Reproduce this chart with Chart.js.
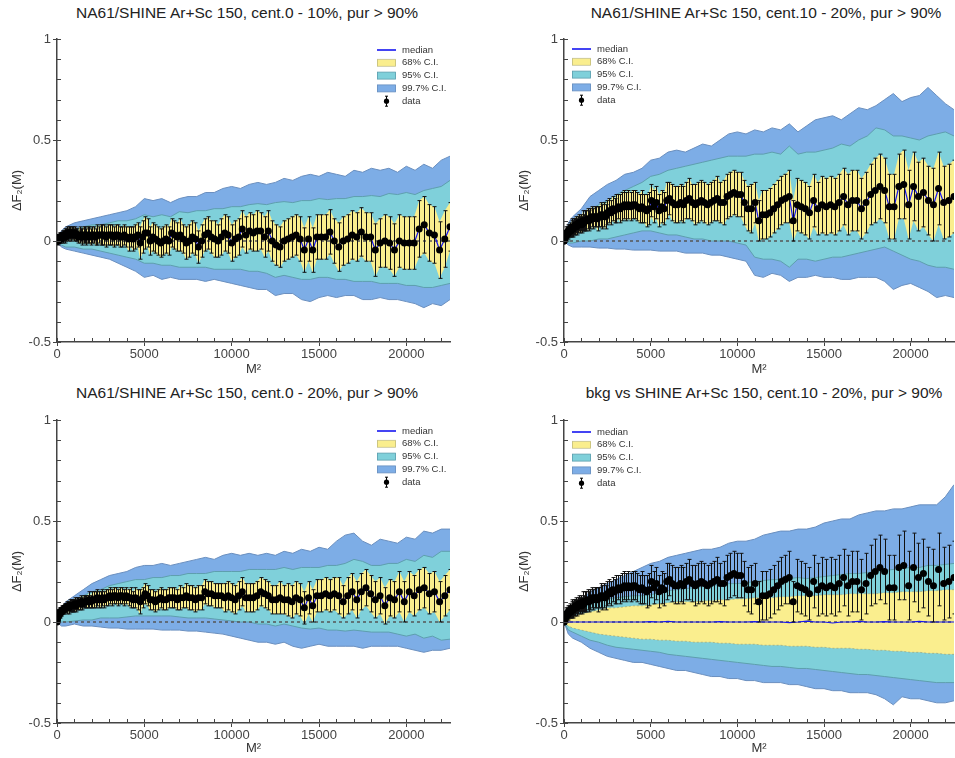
<!DOCTYPE html>
<html><head><meta charset="utf-8">
<script src="https://cdn.jsdelivr.net/npm/chart.js@4.4.1/dist/chart.umd.min.js"></script>
<style>
html,body{margin:0;padding:0;background:#fff;overflow:hidden;width:955px;height:758px;}
#wrap{position:relative;width:955px;height:758px;overflow:hidden;}
.panel{position:absolute;}
.ttl{position:absolute;font-family:"Liberation Sans",Arial,sans-serif;font-size:15.5px;color:#222;white-space:nowrap;transform:translateX(-50%);line-height:17px;}
</style></head><body>
<div id="wrap">
<div class="ttl" style="left:247px;top:4px">NA61/SHINE Ar+Sc 150, cent.0 - 10%, pur &gt; 90%</div>
<div class="ttl" style="left:766px;top:4px">NA61/SHINE Ar+Sc 150, cent.10 - 20%, pur &gt; 90%</div>
<div class="ttl" style="left:247px;top:384px">NA61/SHINE Ar+Sc 150, cent.0 - 20%, pur &gt; 90%</div>
<div class="ttl" style="left:764px;top:384px">bkg vs SHINE Ar+Sc 150, cent.10 - 20%, pur &gt; 90%</div>
<div class="panel" style="left:0;top:0;width:477px;height:379px"><canvas id="c1"></canvas></div>
<div class="panel" style="left:480px;top:0;width:478px;height:379px"><canvas id="c2"></canvas></div>
<div class="panel" style="left:0;top:380px;width:477px;height:378px"><canvas id="c3"></canvas></div>
<div class="panel" style="left:480px;top:380px;width:478px;height:378px"><canvas id="c4"></canvas></div>
</div>
<script>
// ---------- data ----------
const M2 = [1,4,9,16,25,36,49,64,81,100,
121,144,169,196,225,256,289,324,361,400,
441,484,529,576,625,676,729,784,841,900,
961,1024,1089,1156,1225,1296,1369,1444,1521,1600,
1681,1764,1849,1936,2025,2116,2209,2304,2401,2500,
2601,2704,2809,2916,3025,3136,3249,3364,3481,3600,
3721,3844,3969,4096,4225,4356,4489,4624,4761,4900,
5041,5184,5329,5476,5625,5776,5929,6084,6241,6400,
6561,6724,6889,7056,7225,7396,7569,7744,7921,8100,
8281,8464,8649,8836,9025,9216,9409,9604,9801,10000,
10201,10404,10609,10816,11025,11236,11449,11664,11881,12100,
12321,12544,12769,12996,13225,13456,13689,13924,14161,14400,
14641,14884,15129,15376,15625,15876,16129,16384,16641,16900,
17161,17424,17689,17956,18225,18496,18769,19044,19321,19600,
19881,20164,20449,20736,21025,21316,21609,21904,22201,22500];

const BX = [0,250,500,1000,1500,2000,2500,3000,3500,4000,
4500,5000,5500,6000,6500,7000,7500,8000,8500,9000,
9500,10000,10500,11000,11500,12000,12500,13000,13500,14000,
14500,15000,15500,16000,16500,17000,17500,18000,18500,19000,
19500,20000,20500,21000,21500,22000,22500];

const X_TICKS = [0,1000,2000,3000,4000,5000,6000,7000,8000,9000,10000,11000,
12000,13000,14000,15000,16000,17000,18000,19000,20000,21000,22000];
const X_TICK_LABELS = [0,5000,10000,15000,20000];
const Y_TICKS = [-0.5,-0.4,-0.3,-0.2,-0.1,0,0.1,0.2,0.3,0.4,0.5,0.6,0.7,0.8,0.9,1];
const Y_TICK_LABELS = [-0.5,0,0.5,1];

// panel 1: cent. 0-10%
const P1_Y = [0.00,0.00,0.01,0.00,0.01,0.00,0.01,0.01,0.00,0.01,
0.01,0.02,0.01,0.02,0.02,0.01,0.02,0.03,0.02,0.03,
0.03,0.02,0.03,0.04,0.03,0.04,0.04,0.03,0.04,0.04,
0.03,0.04,0.03,0.03,0.02,0.03,0.03,0.02,0.03,0.03,
0.02,0.03,0.03,0.02,0.03,0.03,0.02,0.03,0.03,0.03,
0.03,0.03,0.02,0.03,0.03,0.03,0.02,0.03,0.03,0.02,
0.02,0.03,0.02,0.01,0.02,0.01,0.02,0.03,-0.01,0.02,
0.04,0.04,0.00,0.02,0.01,0.00,-0.01,0.00,0.01,0.00,
0.04,0.03,0.02,0.03,0.01,-0.01,0.00,0.02,0.01,-0.03,
0.00,0.03,0.04,0.02,0.01,0.00,0.02,0.04,0.03,-0.01,
0.01,0.02,0.06,0.03,0.05,0.04,0.05,0.05,0.02,0.05,
0.00,-0.02,-0.03,0.00,0.01,0.02,0.03,0.01,-0.045,0.01,
-0.045,0.02,0.02,0.02,0.045,0.00,-0.03,0.00,0.01,0.03,
0.02,0.045,0.02,0.02,-0.045,-0.01,0.00,-0.01,-0.045,0.00,
-0.01,-0.01,-0.01,0.06,0.08,0.04,0.03,-0.045,0.01,0.07];
const P1_ERR = [0.01,0.01,0.01,0.01,0.01,0.01,0.01,0.02,0.02,0.02,
0.02,0.02,0.02,0.02,0.02,0.02,0.02,0.02,0.03,0.02,
0.03,0.03,0.03,0.03,0.03,0.03,0.03,0.03,0.03,0.03,
0.03,0.03,0.03,0.03,0.03,0.04,0.03,0.04,0.04,0.04,
0.04,0.04,0.04,0.04,0.04,0.04,0.04,0.05,0.04,0.05,
0.05,0.05,0.05,0.05,0.05,0.05,0.05,0.05,0.05,0.05,
0.05,0.05,0.05,0.06,0.05,0.06,0.06,0.06,0.08,0.08,
0.08,0.07,0.07,0.07,0.07,0.07,0.07,0.07,0.07,0.07,
0.07,0.07,0.07,0.08,0.07,0.08,0.08,0.08,0.08,0.08,
0.08,0.08,0.08,0.08,0.09,0.08,0.09,0.09,0.09,0.09,
0.09,0.09,0.09,0.09,0.09,0.09,0.10,0.09,0.10,0.10,
0.10,0.10,0.10,0.10,0.10,0.10,0.10,0.11,0.11,0.11,
0.11,0.11,0.11,0.11,0.11,0.11,0.12,0.12,0.12,0.12,
0.12,0.12,0.12,0.12,0.13,0.12,0.13,0.13,0.13,0.13,
0.13,0.13,0.13,0.14,0.14,0.14,0.14,0.14,0.14,0.12];
const P1_U997 = [0,0.05,0.07,0.09,0.10,0.11,0.12,0.13,0.14,0.15,
0.17,0.21,0.20,0.21,0.19,0.21,0.22,0.22,0.24,0.24,
0.26,0.27,0.26,0.28,0.29,0.28,0.29,0.31,0.30,0.32,
0.33,0.32,0.34,0.33,0.32,0.35,0.34,0.36,0.35,0.36,
0.34,0.37,0.35,0.38,0.36,0.40,0.42];
const P1_U95 = [0,0.03,0.05,0.06,0.07,0.08,0.08,0.09,0.10,0.10,
0.11,0.13,0.12,0.13,0.12,0.145,0.14,0.15,0.15,0.16,
0.16,0.17,0.17,0.18,0.185,0.18,0.19,0.195,0.19,0.20,
0.20,0.21,0.205,0.21,0.21,0.22,0.22,0.225,0.22,0.235,
0.23,0.24,0.23,0.25,0.26,0.27,0.30];
const P1_L95 = [0,-0.02,-0.03,-0.03,-0.04,-0.04,-0.05,-0.06,-0.07,-0.08,
-0.09,-0.11,-0.11,-0.12,-0.12,-0.13,-0.13,-0.13,-0.13,-0.14,
-0.14,-0.14,-0.14,-0.15,-0.15,-0.16,-0.18,-0.17,-0.18,-0.19,
-0.19,-0.18,-0.18,-0.19,-0.19,-0.20,-0.20,-0.20,-0.21,-0.21,
-0.21,-0.22,-0.22,-0.23,-0.23,-0.22,-0.21];
const P1_L997 = [0,-0.03,-0.04,-0.05,-0.06,-0.07,-0.08,-0.09,-0.11,-0.13,
-0.15,-0.18,-0.17,-0.19,-0.18,-0.19,-0.19,-0.19,-0.20,-0.19,
-0.20,-0.21,-0.22,-0.23,-0.24,-0.24,-0.27,-0.26,-0.26,-0.29,
-0.30,-0.28,-0.27,-0.28,-0.27,-0.27,-0.29,-0.29,-0.28,-0.29,
-0.29,-0.30,-0.31,-0.33,-0.31,-0.32,-0.29];

// panel 2 and 4: cent. 10-20%
const P2_Y = [0.00,0.00,0.01,0.01,0.01,0.02,0.02,0.02,0.03,0.03,
0.03,0.04,0.03,0.04,0.05,0.04,0.05,0.05,0.06,0.05,
0.06,0.07,0.06,0.07,0.07,0.08,0.07,0.08,0.09,0.08,
0.09,0.08,0.10,0.09,0.10,0.10,0.11,0.10,0.11,0.12,
0.11,0.12,0.12,0.11,0.12,0.13,0.12,0.13,0.12,0.14,
0.15,0.14,0.16,0.15,0.16,0.17,0.16,0.17,0.18,0.17,
0.18,0.17,0.18,0.18,0.17,0.16,0.17,0.16,0.15,0.16,
0.20,0.17,0.19,0.15,0.17,0.16,0.20,0.21,0.19,0.18,
0.18,0.19,0.18,0.20,0.21,0.19,0.18,0.19,0.20,0.19,
0.18,0.19,0.20,0.21,0.19,0.19,0.22,0.23,0.24,0.23,
0.23,0.19,0.16,0.16,0.19,0.10,0.13,0.13,0.14,0.16,
0.18,0.20,0.21,0.22,0.10,0.18,0.17,0.16,0.14,0.20,
0.16,0.18,0.17,0.18,0.17,0.19,0.22,0.18,0.20,0.20,
0.16,0.19,0.23,0.25,0.27,0.25,0.17,0.17,0.27,0.28,
0.18,0.27,0.22,0.24,0.20,0.18,0.26,0.19,0.20,0.22];
const P2_ERR = [0.01,0.01,0.01,0.01,0.02,0.02,0.02,0.02,0.02,0.02,
0.02,0.03,0.03,0.03,0.03,0.03,0.03,0.03,0.03,0.03,
0.04,0.04,0.04,0.04,0.04,0.04,0.04,0.04,0.04,0.04,
0.04,0.04,0.05,0.04,0.05,0.05,0.05,0.05,0.05,0.05,
0.05,0.05,0.05,0.06,0.05,0.06,0.06,0.06,0.06,0.06,
0.06,0.06,0.06,0.06,0.07,0.06,0.07,0.07,0.07,0.07,
0.07,0.07,0.07,0.07,0.07,0.07,0.08,0.07,0.08,0.08,
0.08,0.08,0.08,0.08,0.08,0.08,0.09,0.08,0.09,0.09,
0.09,0.09,0.09,0.09,0.10,0.09,0.10,0.10,0.10,0.10,
0.10,0.10,0.10,0.11,0.10,0.11,0.11,0.11,0.11,0.11,
0.11,0.11,0.11,0.12,0.10,0.10,0.12,0.12,0.12,0.12,
0.12,0.12,0.12,0.13,0.10,0.13,0.13,0.13,0.13,0.13,
0.13,0.14,0.14,0.14,0.14,0.14,0.14,0.15,0.15,0.15,
0.15,0.15,0.15,0.16,0.16,0.16,0.16,0.16,0.16,0.17,
0.17,0.17,0.17,0.17,0.17,0.18,0.18,0.18,0.18,0.18];
const P2_U997 = [0,0.09,0.12,0.16,0.22,0.25,0.28,0.30,0.33,0.34,
0.36,0.40,0.41,0.44,0.45,0.44,0.46,0.48,0.47,0.50,
0.53,0.54,0.53,0.55,0.54,0.56,0.55,0.58,0.54,0.57,
0.60,0.61,0.62,0.60,0.63,0.66,0.65,0.67,0.70,0.73,
0.69,0.71,0.72,0.76,0.72,0.68,0.65];
const P2_U95 = [0,0.05,0.07,0.10,0.15,0.18,0.20,0.23,0.25,0.27,
0.29,0.32,0.33,0.35,0.36,0.37,0.38,0.39,0.40,0.41,
0.42,0.42,0.42,0.43,0.43,0.44,0.43,0.47,0.43,0.44,
0.44,0.45,0.46,0.48,0.47,0.50,0.52,0.56,0.55,0.52,
0.52,0.51,0.50,0.52,0.53,0.54,0.52];
const P2_L95 = [0,-0.01,-0.01,0.00,0.00,0.01,0.01,0.02,0.03,0.04,
0.05,0.05,0.04,0.03,0.03,0.02,0.01,0.01,0.00,0.00,
0.00,-0.01,-0.02,-0.08,-0.09,-0.09,-0.10,-0.13,-0.09,-0.09,
-0.10,-0.09,-0.08,-0.08,-0.07,-0.06,-0.05,-0.04,-0.03,-0.05,
-0.07,-0.09,-0.10,-0.12,-0.13,-0.13,-0.14];
const P2_L997 = [0,-0.02,-0.03,-0.03,-0.03,-0.035,-0.035,-0.04,-0.04,-0.045,
-0.045,-0.045,-0.05,-0.05,-0.05,-0.06,-0.06,-0.06,-0.07,-0.07,
-0.08,-0.09,-0.10,-0.17,-0.18,-0.16,-0.17,-0.20,-0.18,-0.18,
-0.17,-0.18,-0.18,-0.19,-0.19,-0.18,-0.18,-0.18,-0.20,-0.24,
-0.22,-0.21,-0.23,-0.25,-0.28,-0.27,-0.28];

// panel 3: cent. 0-20%
const P3_Y = [0.00,0.01,0.01,0.02,0.02,0.02,0.03,0.03,0.03,0.04,
0.04,0.04,0.05,0.05,0.05,0.05,0.06,0.06,0.06,0.06,
0.07,0.07,0.07,0.07,0.08,0.07,0.08,0.08,0.08,0.08,
0.08,0.09,0.08,0.09,0.09,0.09,0.10,0.09,0.10,0.10,
0.10,0.10,0.11,0.10,0.11,0.11,0.11,0.12,0.11,0.11,
0.12,0.11,0.12,0.12,0.13,0.12,0.13,0.13,0.12,0.13,
0.13,0.12,0.13,0.12,0.12,0.11,0.12,0.11,0.10,0.12,
0.14,0.13,0.11,0.11,0.10,0.11,0.12,0.11,0.11,0.12,
0.12,0.12,0.11,0.12,0.12,0.13,0.12,0.12,0.11,0.12,
0.12,0.15,0.14,0.14,0.13,0.13,0.13,0.12,0.13,0.12,
0.11,0.13,0.15,0.12,0.12,0.12,0.13,0.15,0.14,0.13,
0.11,0.11,0.12,0.11,0.11,0.10,0.12,0.11,0.07,0.12,
0.08,0.13,0.13,0.14,0.13,0.14,0.13,0.10,0.13,0.15,
0.11,0.15,0.17,0.14,0.11,0.13,0.08,0.12,0.11,0.15,
0.10,0.15,0.13,0.16,0.17,0.14,0.15,0.10,0.13,0.16];
const P3_ERR = [0.01,0.01,0.01,0.01,0.01,0.01,0.01,0.01,0.02,0.02,
0.02,0.02,0.02,0.02,0.02,0.02,0.02,0.02,0.02,0.02,
0.02,0.02,0.02,0.03,0.02,0.03,0.03,0.03,0.03,0.03,
0.03,0.03,0.03,0.03,0.03,0.03,0.03,0.03,0.03,0.03,
0.03,0.03,0.04,0.03,0.04,0.04,0.04,0.04,0.04,0.04,
0.04,0.04,0.04,0.04,0.04,0.04,0.04,0.04,0.04,0.04,
0.04,0.04,0.04,0.04,0.05,0.04,0.05,0.05,0.06,0.05,
0.05,0.05,0.05,0.05,0.05,0.05,0.05,0.05,0.05,0.05,
0.05,0.05,0.05,0.06,0.05,0.06,0.06,0.06,0.06,0.06,
0.06,0.06,0.06,0.06,0.06,0.06,0.06,0.07,0.07,0.07,
0.07,0.07,0.07,0.07,0.07,0.07,0.07,0.07,0.07,0.07,
0.07,0.07,0.08,0.07,0.08,0.08,0.08,0.08,0.08,0.08,
0.08,0.08,0.08,0.08,0.08,0.08,0.09,0.08,0.09,0.09,
0.09,0.09,0.09,0.09,0.09,0.09,0.09,0.09,0.09,0.10,
0.10,0.10,0.10,0.10,0.10,0.10,0.10,0.10,0.10,0.10];
const P3_U997 = [0,0.07,0.10,0.13,0.16,0.19,0.21,0.23,0.24,0.25,
0.27,0.28,0.28,0.29,0.28,0.29,0.30,0.31,0.32,0.31,
0.33,0.34,0.33,0.34,0.33,0.34,0.33,0.35,0.34,0.36,
0.35,0.37,0.36,0.40,0.43,0.44,0.40,0.38,0.41,0.40,
0.39,0.42,0.41,0.45,0.44,0.46,0.46];
const P3_U95 = [0,0.05,0.07,0.10,0.13,0.15,0.16,0.18,0.19,0.20,
0.21,0.21,0.22,0.22,0.23,0.23,0.24,0.24,0.24,0.25,
0.25,0.25,0.25,0.26,0.26,0.26,0.26,0.27,0.26,0.27,
0.27,0.27,0.28,0.28,0.29,0.31,0.30,0.28,0.28,0.29,
0.29,0.31,0.30,0.33,0.32,0.35,0.35];
const P3_L95 = [0,0.00,0.00,0.005,0.01,0.01,0.02,0.02,0.02,0.025,
0.03,0.03,0.03,0.03,0.03,0.025,0.02,0.02,0.02,0.015,
0.01,0.005,0.00,0.00,-0.01,-0.01,-0.02,-0.01,-0.02,-0.03,
-0.035,-0.03,-0.04,-0.04,-0.045,-0.04,-0.045,-0.05,-0.05,-0.05,
-0.06,-0.07,-0.06,-0.08,-0.07,-0.09,-0.085];
const P3_L997 = [0,-0.02,-0.02,-0.01,-0.02,-0.02,-0.025,-0.03,-0.03,-0.035,
-0.035,-0.035,-0.035,-0.04,-0.04,-0.04,-0.045,-0.045,-0.05,-0.055,
-0.06,-0.07,-0.08,-0.09,-0.10,-0.10,-0.11,-0.10,-0.12,-0.13,
-0.12,-0.11,-0.12,-0.12,-0.12,-0.12,-0.13,-0.12,-0.12,-0.12,
-0.12,-0.13,-0.14,-0.15,-0.14,-0.14,-0.13];

// panel 4: background bands
const P4_MED = [0,0,0,0,0,0,0,0,0,0,
0,0.002,0,0.003,0,0,0,0,0,0.002,
0,0,0,0.002,0,0,0,-0.003,0,0.004,
0,0,-0.005,0,0,0.003,0,0,0.002,0,
0,0,0.003,0,0,0,0];
const P4_U68 = [0,0.02,0.03,0.04,0.05,0.06,0.07,0.07,0.075,0.08,
0.08,0.085,0.09,0.095,0.10,0.10,0.10,0.105,0.105,0.11,
0.11,0.115,0.115,0.12,0.12,0.12,0.125,0.125,0.13,0.13,
0.13,0.135,0.135,0.135,0.14,0.14,0.14,0.14,0.145,0.145,
0.15,0.15,0.15,0.155,0.155,0.16,0.16];
const P4_L68 = [0,-0.02,-0.03,-0.04,-0.05,-0.06,-0.065,-0.07,-0.075,-0.08,
-0.085,-0.085,-0.09,-0.09,-0.095,-0.095,-0.10,-0.10,-0.10,-0.105,
-0.105,-0.11,-0.11,-0.11,-0.115,-0.115,-0.115,-0.12,-0.12,-0.12,
-0.125,-0.125,-0.13,-0.13,-0.13,-0.135,-0.135,-0.14,-0.14,-0.145,
-0.145,-0.15,-0.15,-0.155,-0.155,-0.16,-0.16];
const P4_U95 = [0,0.04,0.05,0.07,0.09,0.10,0.115,0.12,0.125,0.13,
0.13,0.135,0.145,0.155,0.16,0.165,0.17,0.175,0.18,0.185,
0.19,0.19,0.195,0.20,0.205,0.21,0.21,0.215,0.22,0.215,
0.22,0.225,0.23,0.235,0.24,0.24,0.245,0.25,0.255,0.26,
0.265,0.27,0.27,0.28,0.28,0.285,0.29];
const P4_L95 = [0,-0.04,-0.05,-0.07,-0.09,-0.10,-0.115,-0.125,-0.13,-0.135,
-0.14,-0.145,-0.15,-0.16,-0.165,-0.17,-0.175,-0.18,-0.185,-0.19,
-0.195,-0.20,-0.205,-0.21,-0.215,-0.22,-0.22,-0.225,-0.23,-0.23,
-0.235,-0.24,-0.245,-0.25,-0.255,-0.26,-0.26,-0.265,-0.27,-0.275,
-0.28,-0.285,-0.29,-0.295,-0.30,-0.30,-0.30];
const P4_U997 = [0,0.06,0.08,0.11,0.15,0.17,0.19,0.21,0.23,0.25,
0.27,0.29,0.30,0.32,0.33,0.34,0.35,0.36,0.36,0.37,
0.39,0.40,0.40,0.41,0.43,0.44,0.45,0.45,0.46,0.46,
0.47,0.49,0.50,0.51,0.51,0.53,0.54,0.55,0.55,0.56,
0.56,0.57,0.58,0.58,0.58,0.62,0.68];
const P4_L997 = [0,-0.06,-0.08,-0.10,-0.13,-0.15,-0.17,-0.18,-0.19,-0.20,
-0.20,-0.21,-0.22,-0.23,-0.24,-0.24,-0.25,-0.26,-0.27,-0.27,
-0.28,-0.28,-0.29,-0.29,-0.30,-0.30,-0.30,-0.31,-0.31,-0.32,
-0.33,-0.33,-0.34,-0.34,-0.35,-0.35,-0.35,-0.36,-0.38,-0.41,
-0.37,-0.38,-0.38,-0.39,-0.40,-0.40,-0.39];

const LEGEND_LABELS = ['median','68% C.I.','95% C.I.','99.7% C.I.','data'];

// ---------- styles ----------
const FONT = "'Liberation Sans', Arial, sans-serif";
const C68 = '#FAEE8E', C95 = '#7FD0DA', C997 = '#7DADE6';
const E68 = 'rgba(150,150,110,0.55)', E95 = '#5E9FAE', E997 = '#6A8FBF';
const CMED = '#1515F0';
Chart.defaults.font.family = FONT;
Chart.defaults.animation = false;

const xy = (xs, ys) => xs.map((x, i) => ({x: x, y: ys[i]}));

const errPlugin = {
  id: 'errbars',
  beforeDatasetDraw(chart, args) {
    const ds = chart.data.datasets[args.index];
    if (!ds.errs) return;
    const xs = chart.scales.x, ys = chart.scales.y, ctx = chart.ctx, a = chart.chartArea;
    ctx.save();
    ctx.beginPath(); ctx.rect(a.left, a.top, a.right - a.left, a.bottom - a.top); ctx.clip();
    ctx.strokeStyle = '#111'; ctx.lineWidth = 1;
    ctx.beginPath();
    ds.data.forEach((p, i) => {
      const e = ds.errs[i];
      const px = Math.round(xs.getPixelForValue(p.x)) + 0.5;
      const y1 = ys.getPixelForValue(p.y + e), y2 = ys.getPixelForValue(p.y - e);
      ctx.moveTo(px, y1); ctx.lineTo(px, y2);
      ctx.moveTo(px - 2, y1); ctx.lineTo(px + 2, y1);
      ctx.moveTo(px - 2, y2); ctx.lineTo(px + 2, y2);
    });
    ctx.stroke();
    ctx.restore();
  }
};

const innerTicks = {
  id: 'innerTicks',
  afterDraw(chart) {
    const ctx = chart.ctx, xs = chart.scales.x, ys = chart.scales.y, a = chart.chartArea;
    ctx.save(); ctx.strokeStyle = '#444'; ctx.lineWidth = 1; ctx.beginPath();
    xs.ticks.forEach(t => { const p = Math.round(xs.getPixelForValue(t.value)) + 0.5; ctx.moveTo(p, a.bottom); ctx.lineTo(p, a.bottom - 4); });
    ys.ticks.forEach(t => { const p = Math.round(ys.getPixelForValue(t.value)) + 0.5; ctx.moveTo(a.left, p); ctx.lineTo(a.left + 4, p); });
    ctx.stroke(); ctx.restore();
  }
};

const ciLegend = {
  id: 'ciLegend',
  afterDatasetsDraw(chart, args, o) {
    if (!o || o.x === undefined) return;
    const ctx = chart.ctx; const step = 12.8;
    ctx.save();
    ctx.font = "9.5px " + FONT; ctx.fillStyle = '#333'; ctx.textBaseline = 'middle';
    LEGEND_LABELS.forEach((lab, i) => {
      const y = o.y + i * step, x = o.x;
      if (i === 0) { ctx.strokeStyle = CMED; ctx.lineWidth = 1.6; ctx.beginPath(); ctx.moveTo(x, y); ctx.lineTo(x + 19, y); ctx.stroke(); }
      else if (i < 4) {
        const f = [C68, C95, C997][i - 1], e = [E68, E95, E997][i - 1];
        ctx.fillStyle = f; ctx.fillRect(x, y - 3.5, 19, 7);
        ctx.strokeStyle = e; ctx.lineWidth = 0.8; ctx.strokeRect(x + 0.5, y - 3.5, 18, 7);
      } else {
        ctx.strokeStyle = '#000'; ctx.lineWidth = 1; ctx.beginPath();
        ctx.moveTo(x + 9.5, y - 5); ctx.lineTo(x + 9.5, y + 5);
        ctx.moveTo(x + 8, y - 5); ctx.lineTo(x + 11, y - 5);
        ctx.moveTo(x + 8, y + 5); ctx.lineTo(x + 11, y + 5); ctx.stroke();
        ctx.fillStyle = '#000'; ctx.beginPath(); ctx.arc(x + 9.5, y, 2.6, 0, Math.PI * 2); ctx.fill();
      }
      ctx.fillStyle = '#333'; ctx.fillText(lab, x + 25, y);
    });
    ctx.restore();
  }
};

function isLabeled(list, v) { return list.some(t => Math.abs(t - v) < 1e-6); }

function makePanel(id, cfg) {
  const band = (data, fillNext, color, edge, order, dash) => ({
    data: data, fill: fillNext ? '+1' : false, backgroundColor: color, borderColor: edge,
    borderWidth: 1, borderDash: dash || [], pointRadius: 0, order: order, tension: 0
  });
  const datasets = [
    band(xy(BX, cfg.u997), true, C997, E997, 60),
    band(xy(BX, cfg.l997), false, C997, E997, 59),
    band(xy(BX, cfg.u95), true, C95, E95, 50),
    band(xy(BX, cfg.l95), false, C95, E95, 49),
    band(cfg.u68, true, C68, cfg.edge68, 40, cfg.dash68),
    band(cfg.l68, false, C68, cfg.edge68, 39, cfg.dash68),
    {data: [{x: 0, y: 0}, {x: 22500, y: 0}], borderColor: '#555', borderWidth: 1.3, borderDash: [3, 3], pointRadius: 0, fill: false, order: 30},
    {data: cfg.med, borderColor: CMED, borderWidth: 1.2, pointRadius: 0, fill: false, order: 20},
    {data: xy(M2, cfg.y), errs: cfg.err, showLine: false, pointRadius: 3.5, pointBackgroundColor: '#000', pointBorderColor: '#000', pointBorderWidth: 0, order: 10}
  ];
  const H = cfg.h;
  return new Chart(document.getElementById(id), {
    type: 'line',
    data: {datasets: datasets},
    options: {
      responsive: true, maintainAspectRatio: false, animation: false,
      layout: {padding: {left: cfg.padL, right: cfg.padR, top: cfg.top, bottom: 0}},
      plugins: {legend: {display: false}, tooltip: {enabled: false}, ciLegend: {x: cfg.lx, y: cfg.ly}},
      scales: {
        x: {
          type: 'linear', min: 0, max: 22500,
          afterBuildTicks: s => { s.ticks = X_TICKS.map(v => ({value: v})); },
          afterFit: s => { s.height = H - cfg.bottom; },
          border: {color: '#444', width: 1.5},
          grid: {drawOnChartArea: false, tickLength: 4, color: c => (c.tick && isLabeled(X_TICK_LABELS, c.tick.value)) ? '#444' : 'rgba(0,0,0,0)'},
          ticks: {autoSkip: false, maxRotation: 0, minRotation: 0, padding: 1, color: '#444', font: {size: 13},
            callback: v => isLabeled(X_TICK_LABELS, v) ? String(v) : ''},
          title: {display: true, text: 'M²', color: '#333', font: {size: 13}, padding: {top: 0, bottom: 2}}
        },
        y: {
          type: 'linear', min: -0.5, max: 1,
          afterBuildTicks: s => { s.ticks = Y_TICKS.map(v => ({value: v})); },
          afterFit: s => { s.width = 55; },
          border: {color: '#444', width: 1.5},
          grid: {drawOnChartArea: false, tickLength: 4, color: c => (c.tick && isLabeled(Y_TICK_LABELS, c.tick.value)) ? '#444' : 'rgba(0,0,0,0)'},
          ticks: {autoSkip: false, padding: 2, color: '#444', font: {size: 13},
            callback: v => isLabeled(Y_TICK_LABELS, v) ? String(Math.round(v * 10) / 10) : ''},
          title: {display: true, text: 'ΔF₂(M)', color: '#333', font: {size: 13}, padding: {top: 8, bottom: 0}}
        }
      }
    },
    plugins: [errPlugin, innerTicks, ciLegend]
  });
}

const lo = (ys, es) => M2.map((x, i) => ({x: x, y: ys[i] - es[i]}));
const hi = (ys, es) => M2.map((x, i) => ({x: x, y: ys[i] + es[i]}));

makePanel('c1', {h: 379, padL: 2, padR: 27, top: 39, bottom: 342, lx: 377, ly: 50,
  y: P1_Y, err: P1_ERR, med: xy(M2, P1_Y), u68: hi(P1_Y, P1_ERR), l68: lo(P1_Y, P1_ERR), edge68: 'rgba(0,0,0,0)',
  u95: P1_U95, l95: P1_L95, u997: P1_U997, l997: P1_L997});
makePanel('c2', {h: 379, padL: 29, padR: 1, top: 39, bottom: 342, lx: 92, ly: 49,
  y: P2_Y, err: P2_ERR, med: xy(M2, P2_Y), u68: hi(P2_Y, P2_ERR), l68: lo(P2_Y, P2_ERR), edge68: 'rgba(0,0,0,0)',
  u95: P2_U95, l95: P2_L95, u997: P2_U997, l997: P2_L997});
makePanel('c3', {h: 378, padL: 2, padR: 27, top: 40, bottom: 343, lx: 377, ly: 51,
  y: P3_Y, err: P3_ERR, med: xy(M2, P3_Y), u68: hi(P3_Y, P3_ERR), l68: lo(P3_Y, P3_ERR), edge68: 'rgba(0,0,0,0)',
  u95: P3_U95, l95: P3_L95, u997: P3_U997, l997: P3_L997});
makePanel('c4', {h: 378, padL: 29, padR: 1, top: 40, bottom: 343, lx: 92, ly: 52,
  y: P2_Y, err: P2_ERR, med: xy(BX, P4_MED), u68: xy(BX, P4_U68), l68: xy(BX, P4_L68), edge68: E68, dash68: [2, 2],
  u95: P4_U95, l95: P4_L95, u997: P4_U997, l997: P4_L997});
</script>
</body></html>
